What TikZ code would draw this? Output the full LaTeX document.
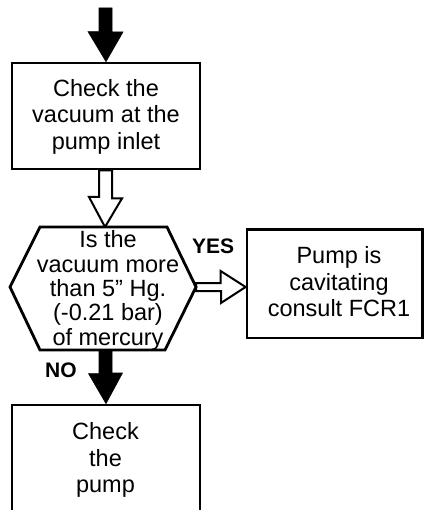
\documentclass[tikz,border=0pt]{standalone}
\usepackage{fontspec}
\setmainfont{Liberation Sans}
\usetikzlibrary{calc}
\begin{document}
\begin{tikzpicture}[x=1pt,y=-1pt,
  box/.style={draw, line width=2.8pt, inner sep=0pt},
  txt/.style={align=center, font=\fontsize{23.5}{26.5}\selectfont, inner sep=0pt},
  hextxt/.style={align=center, font=\fontsize{23.5}{24.3}\selectfont, inner sep=0pt},
  lbl/.style={font=\fontsize{21}{25}\selectfont\bfseries, inner sep=0pt, anchor=base west},
  solidarrow/.style={fill=black, draw=black, line width=0.6pt, line join=miter},
  hollowarrow/.style={fill=white, draw=black, line width=2pt, line join=miter},
  hexshape/.style={draw, line width=2.8pt, line join=miter}]
\useasboundingbox (0,0) rectangle (424,510);
\clip (0,0) rectangle (424,510);

% boxes
\node[box, minimum width=188pt, minimum height=106pt] (b1) at (106,116) {};
\node[box, minimum width=175.5pt, minimum height=108.5pt] (b3) at (334.75,283.75) {};
\node[box, minimum width=188pt, minimum height=135pt] (b4) at (106,472.5) {};

% hexagon
\coordinate (hexL) at (10,287);
\coordinate (hexR) at (196,287);
\coordinate (hexT) at (105,227);
\coordinate (hexB) at (105,350);
\coordinate (topstart) at (105,8);

% arrows
\draw[solidarrow] (b1.north) -- ++(-18,-30) -- ++(11,0) |- (topstart) -| ++(7,24) -- ++(11,0) -- cycle;
\draw[hollowarrow] (hexT) -- ++(-16,-30) -- ++(10,0) |- (b1.south) -| ++(6,28) -- ++(10,0) -- cycle;
\draw[hollowarrow] (b3.west |- hexR) -- ++(-25,-16) -- ++(0,12) -- (hexR |- 0,283) -- (hexR |- 0,291) -- ++(25,0) -- ++(0,12) -- cycle;
\draw[solidarrow] (b4.north) -- ++(-17.5,-30) -- ++(10.5,0) |- (hexB) -| ++(7,23) -- ++(10.5,0) -- cycle;

\draw[hexshape, fill=white] (hexL) -- (40,227) -- (167,227) -- (hexR) -- (165,350) -- (40,350) -- cycle;

% texts
\node[txt] (t1) at (106,116.5) {Check the\\vacuum at the\\pump inlet};
\node[hextxt] (th) at (108,290.5) {Is the\\vacuum more\\than 5” Hg.\\(-0.21 bar)\\of mercury};
\node[txt] (t3) at (339,282) {Pump is\\cavitating\\consult FCR1};
\node[txt] (t4) at (105.5,460) {Check\\the\\pump};

\node[lbl] (yes) at (192,253) {YES};
\node[lbl] (no) at (45,377) {NO};
\end{tikzpicture}
\end{document}
